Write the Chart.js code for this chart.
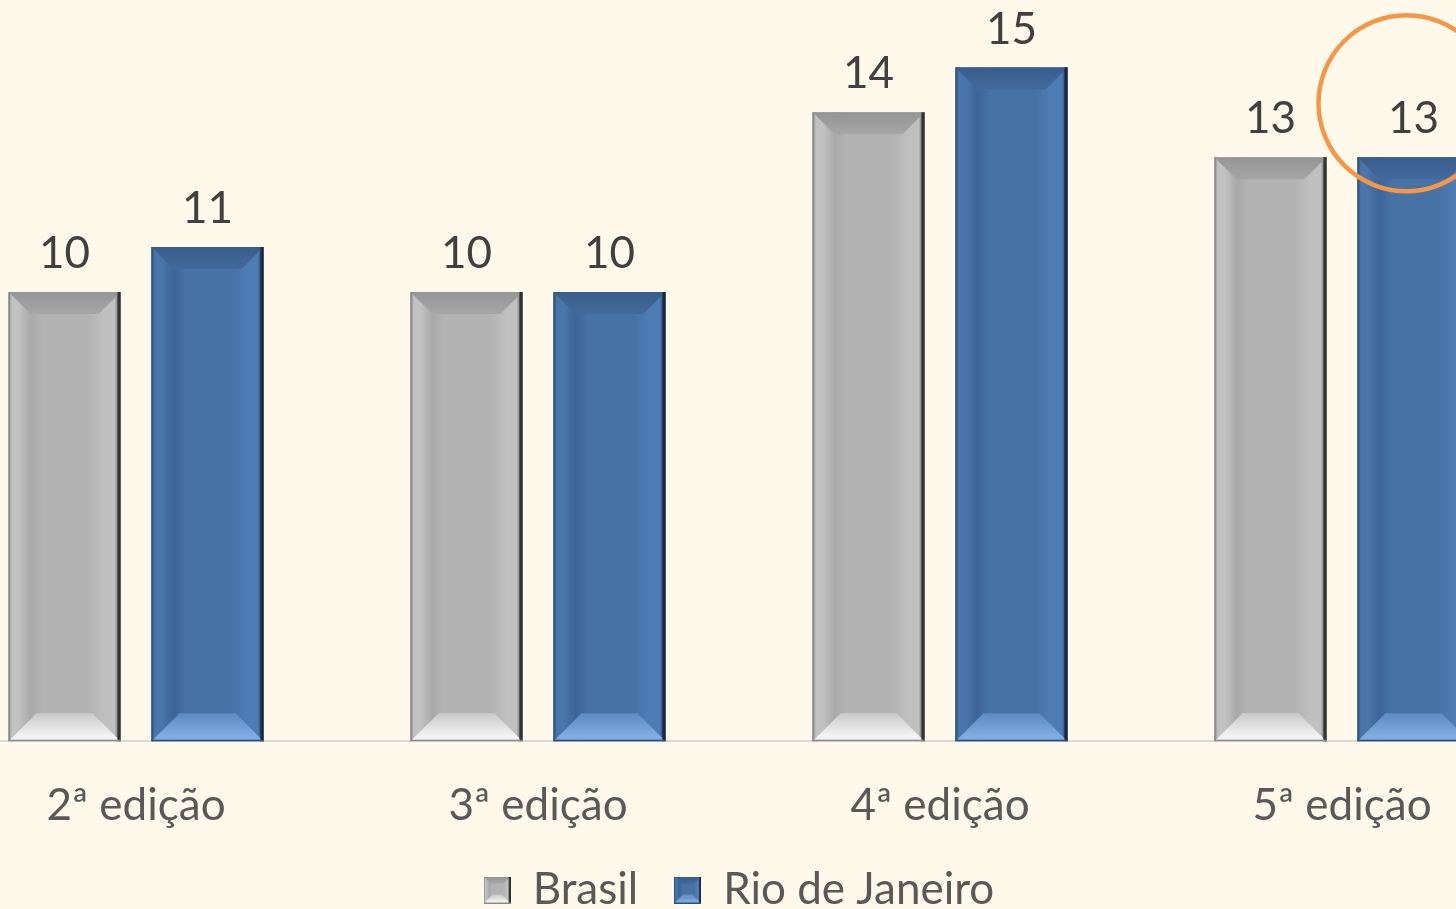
<!DOCTYPE html>
<html>
<head>
<meta charset="utf-8">
<script src="https://cdn.jsdelivr.net/npm/chart.js@4.4.1/dist/chart.umd.min.js"></script>
<style>
html, body { margin: 0; padding: 0; background: #fef9ea; }
#wrap { position: relative; width: 1456px; height: 909px; overflow: hidden; background: #fef9ea; }
#myChart { position: absolute; left: -65px; top: 0; }
</style>
</head>
<body>
<div id="wrap"><canvas id="myChart" width="1608" height="922"></canvas></div>
<script>
var edicoes = ['2ª edição', '3ª edição', '4ª edição', '5ª edição'];
var brasil = [10, 10, 14, 13];
var rioDeJaneiro = [11, 10, 15, 13];

var FONT = 'Lato';

var CINZA = {
  edgeL: '#8c8c8c', sideL: '#c2c2c2', shadeL: '#a9a9a9', mid: '#b3b3b3', sideR: '#c0c0c0', edgeR: '#333333',
  top0: '#959595', top1: '#a6a6a6', bot0: '#c9c9c9', bot1: '#f2f2f2', botLine: '#8a8a8a'
};
var AZUL = {
  edgeL: '#2f5584', sideL: '#4a76ab', shadeL: '#3c6498', mid: '#4672a6', sideR: '#4e7db5', edgeR: '#1a2940',
  top0: '#395e8c', top1: '#43699c', bot0: '#5d8ac3', bot1: '#80abe3', botLine: '#2c4f7c'
};

function bevel(ctx, x, y, w, h, c, bt, bb, er) {
  bt = Math.min(bt, w / 2, h / 2);
  bb = Math.min(bb, w / 2, h / 2);
  ctx.save();
  var g = ctx.createLinearGradient(x, 0, x + w, 0);
  g.addColorStop(0, c.edgeL);
  g.addColorStop(0.03, c.sideL);
  g.addColorStop(0.09, c.sideL);
  g.addColorStop(0.2, c.shadeL);
  g.addColorStop(0.3, c.mid);
  g.addColorStop(0.72, c.mid);
  g.addColorStop(0.86, c.sideR);
  g.addColorStop(0.95, c.sideR);
  g.addColorStop(1, c.edgeR);
  ctx.fillStyle = g;
  ctx.fillRect(x, y, w, h);

  ctx.beginPath();
  ctx.moveTo(x, y);
  ctx.lineTo(x + w, y);
  ctx.lineTo(x + w - bt, y + bt);
  ctx.lineTo(x + bt, y + bt);
  ctx.closePath();
  var gt = ctx.createLinearGradient(0, y, 0, y + bt);
  gt.addColorStop(0, c.top0);
  gt.addColorStop(1, c.top1);
  ctx.fillStyle = gt;
  ctx.fill();

  var yb = y + h;
  ctx.beginPath();
  ctx.moveTo(x, yb);
  ctx.lineTo(x + w, yb);
  ctx.lineTo(x + w - bb, yb - bb);
  ctx.lineTo(x + bb, yb - bb);
  ctx.closePath();
  var gb = ctx.createLinearGradient(0, yb - bb, 0, yb);
  gb.addColorStop(0, c.bot0);
  gb.addColorStop(0.8, c.bot1);
  gb.addColorStop(1, c.bot1);
  ctx.fillStyle = gb;
  ctx.fill();

  ctx.fillStyle = c.edgeR;
  ctx.fillRect(x + w - er, y, er, h);
  ctx.fillStyle = c.edgeL;
  ctx.fillRect(x, y, Math.max(1, er / 2), h);
  ctx.fillStyle = c.botLine;
  ctx.fillRect(x, yb - Math.max(1, er / 2), w, Math.max(1, er / 2));
  ctx.restore();
}

function legendIcon(c) {
  var cv = document.createElement('canvas');
  cv.width = 27; cv.height = 27;
  bevel(cv.getContext('2d'), 0, 0, 27, 27, c, 7, 9, 2);
  return cv;
}
var icons = [legendIcon(CINZA), legendIcon(AZUL)];

var bevelPlugin = {
  id: 'bevelBars',
  afterDatasetsDraw: function(chart) {
    var ctx = chart.ctx;
    var estilos = [CINZA, AZUL];
    chart.data.datasets.forEach(function(ds, i) {
      var meta = chart.getDatasetMeta(i);
      meta.data.forEach(function(el, j) {
        var x0 = el.x - el.width / 2;
        bevel(ctx, x0, el.y, el.width, el.base - el.y, estilos[i], 22, 28, 3);
        ctx.save();
        ctx.fillStyle = '#404040';
        ctx.font = '44px ' + FONT;
        ctx.textAlign = 'center';
        ctx.textBaseline = 'middle';
        ctx.fillText(String(ds.data[j]), el.x, el.y - 38);
        ctx.restore();
      });
    });
  },
  afterDraw: function(chart) {
    var meta = chart.getDatasetMeta(1);
    var el = meta.data[meta.data.length - 1];
    var ctx = chart.ctx;
    ctx.save();
    ctx.strokeStyle = '#f79646';
    ctx.lineWidth = 4.5;
    ctx.beginPath();
    ctx.arc(el.x - 7, el.y - 54, 88, 0, Math.PI * 2);
    ctx.stroke();
    ctx.restore();
  }
};

new Chart('myChart', {
  type: 'bar',
  data: {
    labels: edicoes,
    datasets: [
      { label: 'Brasil', data: brasil, backgroundColor: CINZA.mid, borderWidth: 0 },
      { label: 'Rio de Janeiro', data: rioDeJaneiro, backgroundColor: AZUL.mid, borderWidth: 0 }
    ]
  },
  options: {
    responsive: false,
    animation: false,
    devicePixelRatio: 1,
    layout: { padding: 0 },
    datasets: {
      bar: { categoryPercentage: 0.7114, barPercentage: 0.783 }
    },
    scales: {
      x: {
        grid: { display: false, tickLength: 38 },
        border: { color: '#d9d9d9', width: 2 },
        ticks: { color: '#595959', font: { family: FONT, size: 44 }, padding: 0 }
      },
      y: { display: false, min: 0, max: 16.5 }
    },
    plugins: {
      tooltip: { enabled: false },
      legend: {
        position: 'bottom',
        labels: {
          color: '#595959',
          font: { family: FONT, size: 44 },
          usePointStyle: true,
          boxWidth: 27,
          padding: 36,
          generateLabels: function(chart) {
            var items = Chart.defaults.plugins.legend.labels.generateLabels(chart);
            items.forEach(function(it, k) { it.pointStyle = icons[k]; });
            return items;
          }
        }
      }
    }
  },
  plugins: [bevelPlugin]
});
</script>
</body>
</html>
